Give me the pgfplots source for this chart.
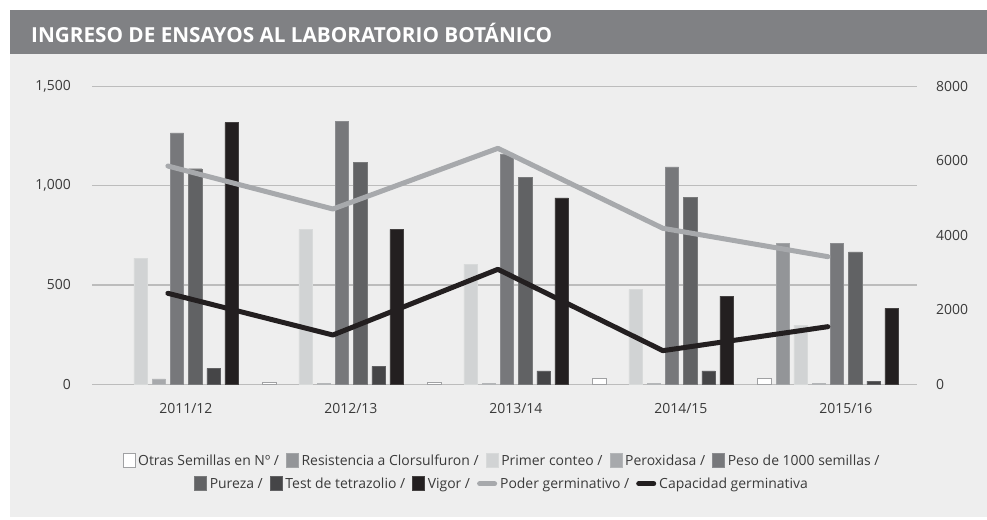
\documentclass[border=0pt]{standalone}
\usepackage{fontspec}
\setmainfont{Open Sans}
\usepackage{pgfplots}
\usepackage{pgfplotstable}
\pgfplotsset{compat=1.18}

\definecolor{bgc}{HTML}{EEEEEE}
\definecolor{titlec}{HTML}{808184}
\definecolor{gridc}{HTML}{BCBCBC}
\definecolor{txtc}{HTML}{3A3A3A}
\definecolor{otrasc}{HTML}{FFFFFF}
\definecolor{otrasd}{HTML}{A0A1A3}
\definecolor{resisc}{HTML}{939598}
\definecolor{primc}{HTML}{D1D3D4}
\definecolor{peroxc}{HTML}{A7A9AC}
\definecolor{pesoc}{HTML}{77787B}
\definecolor{purc}{HTML}{616264}
\definecolor{testc}{HTML}{454547}
\definecolor{vigc}{HTML}{231F20}
\definecolor{poderc}{HTML}{A7A9AC}
\definecolor{capc}{HTML}{231F20}

% bars: left axis
\pgfplotstableread{
x otras resist primer perox peso pureza test vigor
0 0   0   635 27 1265 1085 80 1317
1 8   0   780 5  1325 1117 90 780
2 12  0   605 5  1160 1043 68 938
3 30  0   477 5  1094 940  68 444
4 30  708 298 5  708  666  16 382
}\ensayos

% lines: right axis
\pgfplotstableread{
x poder cap
0 5860 2443
1 4706 1323
2 6335 3087
3 4188 903
4 3426 1547
}\germ

\pgfplotsset{
  barleg/.style={legend image code/.code={\draw[##1, line width=0.6bp] (0bp,-6bp) rectangle (12bp,8bp);}},
  lineleg/.style={legend image code/.code={\draw[##1, line cap=round] (1bp,0.5bp) -- (16bp,0.5bp);}},
  nozero/.style={y filter/.expression={y==0 ? nan : y}},
  common/.style={
    scale only axis, width=825bp, height=298bp,
    at={(92bp,135.7bp)}, anchor=south west,
    xmin=-0.46, xmax=4.54,
    axis line style={draw=none},
    major tick length=0pt,
    tick label style={font=\fontsize{14}{16}\selectfont, text=txtc},
    /pgf/number format/assume math mode=true,
    unbounded coords=discard,
    legend style={draw=none, fill=none, legend columns=-1,
      font=\fontsize{14}{16}\selectfont, text=txtc, anchor=center,
      /tikz/every even column/.append style={column sep=5bp},
      /tikz/every odd column/.append style={column sep=1bp}},
  },
}

\begin{document}
\begin{tikzpicture}
\fill[white] (0,0) rectangle (987bp,520bp);
\fill[bgc] (10bp,3bp) rectangle (987bp,466bp);
\fill[titlec] (10bp,466bp) rectangle (987bp,510bp);
\node[anchor=west, text=white, inner sep=0pt, font=\bfseries\fontsize{20.8}{24}\selectfont] at (31bp,487bp) {INGRESO DE ENSAYOS AL LABORATORIO BOTÁNICO};

\begin{axis}[common,
  ymin=0, ymax=1500, ytick={0,500,1000,1500},
  /pgf/number format/1000 sep={,},
  yticklabel style={anchor=east, inner sep=0pt},
  yticklabel shift=21bp,
  xtick={0,1,2,3,4},
  xticklabels={2011/12,2012/13,2013/14,2014/15,2015/16},
  xticklabel style={anchor=north, inner sep=0pt, xshift=18bp},
  xticklabel shift=19bp,
  ymajorgrids, grid style={gridc, line width=1.3bp},
  ybar=4.9bp, bar width=13.3bp,
  legend style={at={(0.497,-0.257)}},
]
\addplot[barleg, nozero, fill=otrasc, draw=otrasd, line width=0.6bp] table[x=x, y=otras] {\ensayos};
\addlegendentry{Otras Semillas en Nº /}
\addplot[barleg, nozero, fill=resisc, draw=resisc!85!white] table[x=x, y=resist] {\ensayos};
\addlegendentry{Resistencia a Clorsulfuron /}
\addplot[barleg, nozero, fill=primc, draw=primc!85!white] table[x=x, y=primer] {\ensayos};
\addlegendentry{Primer conteo /}
\addplot[barleg, nozero, fill=peroxc, draw=peroxc!85!white] table[x=x, y=perox] {\ensayos};
\addlegendentry{Peroxidasa /}
\addplot[barleg, nozero, fill=pesoc, draw=pesoc!85!white] table[x=x, y=peso] {\ensayos};
\addlegendentry{Peso de 1000 semillas /}
\addplot[barleg, nozero, fill=purc, draw=purc!85!white] table[x=x, y=pureza] {\ensayos};
\addplot[barleg, nozero, fill=testc, draw=testc!85!white] table[x=x, y=test] {\ensayos};
\addplot[barleg, nozero, fill=vigc, draw=vigc!85!white] table[x=x, y=vigor] {\ensayos};
\end{axis}

\begin{axis}[common,
  axis y line*=right, hide x axis,
  ymin=0, ymax=8000, ytick={0,2000,4000,6000,8000},
  /pgf/number format/1000 sep={},
  yticklabel style={anchor=west, inner sep=0pt},
  yticklabel shift=19bp,
  legend style={at={(0.497,-0.335)}},
]
\addlegendimage{barleg, fill=purc, draw=purc!85!white}
\addlegendentry{Pureza /}
\addlegendimage{barleg, fill=testc, draw=testc!85!white}
\addlegendentry{Test de tetrazolio /}
\addlegendimage{barleg, fill=vigc, draw=vigc!85!white}
\addlegendentry{Vigor /}
\addplot[lineleg, poderc, line width=5bp, line cap=round, line join=round, no markers] table[x=x, y=poder] {\germ};
\addlegendentry{Poder germinativo /}
\addplot[lineleg, capc, line width=5bp, line cap=round, line join=round, no markers] table[x=x, y=cap] {\germ};
\addlegendentry{Capacidad germinativa}
\end{axis}

\pgfresetboundingbox
\useasboundingbox (0,0) rectangle (987bp,520bp);
\end{tikzpicture}
\end{document}
